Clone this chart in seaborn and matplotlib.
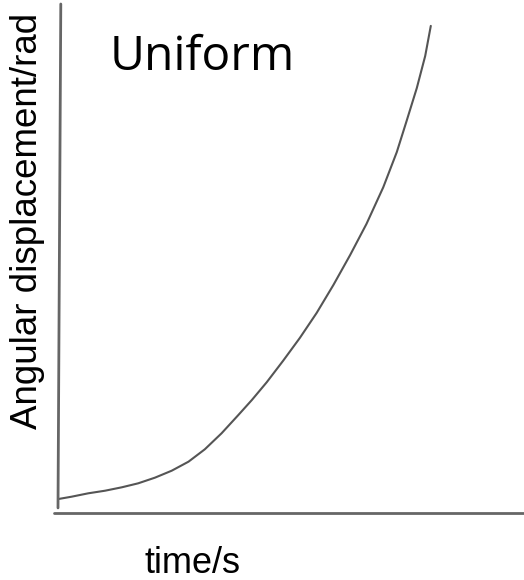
import numpy as np
import pandas as pd
import matplotlib
matplotlib.use("Agg")
import matplotlib.pyplot as plt
import seaborn as sns

# Sketch of angular displacement vs time (arbitrary units)
time_s = [0.01, 0.29, 0.65, 1.01, 1.37, 1.72, 2.08, 2.44, 2.80, 3.15, 3.51, 3.87,
          4.16, 4.48, 4.83, 5.19, 5.55, 5.91, 6.27, 6.62, 6.98, 7.27, 7.48, 7.70,
          7.88, 8.00]
angle_rad = [0.275, 0.32, 0.387, 0.438, 0.505, 0.583, 0.694, 0.831, 1.008, 1.251,
             1.566, 1.925, 2.22, 2.57, 2.99, 3.44, 3.93, 4.48, 5.07, 5.68, 6.40,
             7.09, 7.70, 8.35, 8.98, 9.57]

title_text = "Uniform"
x_label = "time/s"
y_label = "Angular displacement/rad"

sns.set_theme(style="white")
plt.rcParams['font.family'] = ['Liberation Sans', 'DejaVu Sans']

df = pd.DataFrame({"t": time_s, "theta": angle_rad})

fig = plt.figure(figsize=(5.24, 5.8), dpi=100)
ax = fig.add_axes([58 / 524, 67 / 580, 466 / 524, 509 / 580])

sns.lineplot(data=df, x="t", y="theta", ax=ax, color="#555555", linewidth=1.5,
             sort=False, solid_joinstyle="round")

ax.set_xlim(0, 10)
ax.set_ylim(0, 10)
for s in ax.spines.values():
    s.set_visible(False)
ax.set_xticks([])
ax.set_yticks([])
ax.set_xlabel("")
ax.set_ylabel("")

# hand-drawn looking axes
ax.plot([0.006, 0.0], [1.0, 0.01], transform=ax.transAxes, color="#666666",
        linewidth=2, clip_on=False)
ax.plot([-0.009, 1.0], [0.0, 0.0], transform=ax.transAxes, color="#666666",
        linewidth=2, clip_on=False)

ax.text(0.1116, 0.870, title_text, transform=ax.transAxes, fontsize=34.5,
        family=['Open Sans', 'DejaVu Sans'], ha='left', va='baseline', color='black')
ax.text(0.2886, -0.118, x_label, transform=ax.transAxes, fontsize=26,
        ha='center', va='baseline', color='black')
ax.text(-0.0665, 0.574, y_label, transform=ax.transAxes, fontsize=26.5,
        rotation=90, ha='center', va='center', color='black')

fig.savefig("out.png", dpi=100)
